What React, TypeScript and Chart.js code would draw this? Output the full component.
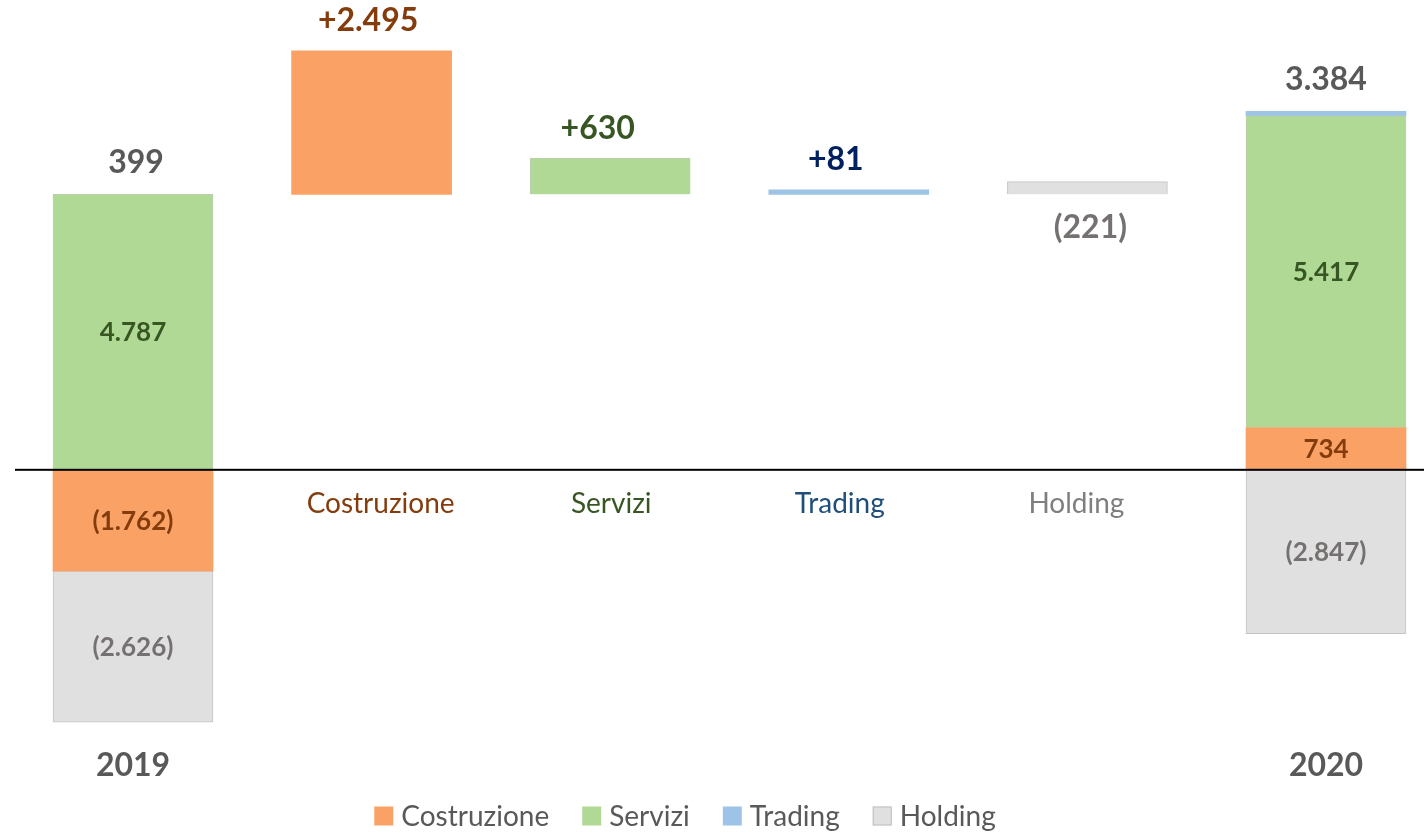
import React, { useEffect, useRef } from "react";
import { Chart, registerables } from "chart.js";

Chart.register(...registerables);

// ---- data ----
const categories = ["2019", "Costruzione", "Servizi", "Trading", "Holding", "2020"];
const segments = ["Costruzione", "Servizi", "Trading", "Holding"];
const values2019 = [-1762, 4787, 0, -2626];
const deltas = [2495, 630, 81, -221];
const values2020 = [734, 5417, 81, -2847];
const totals = [399, 3384];

// ---- styles ----
const fills = ["#FAA266", "#B0D995", "#9DC3E6", "#E0E0E0"];
const borders = ["#FAA266", "#BCCFAE", "#9DC3E6", "#C4C4C4"];
const valueColors = ["#843C0C", "#375623", "#002060", "#767171"];
const axisColors = ["#843C0C", "#375623", "#1F4E79", "#7F7F7F"];
const FONT = "Lato, 'Open Sans', sans-serif";

function fmtNum(v: number): string {
  return String(Math.abs(v)).replace(/\B(?=(\d{3})+(?!\d))/g, ".");
}
function fmtSigned(v: number): string {
  return v < 0 ? `(${fmtNum(v)})` : fmtNum(v);
}
function fmtDelta(v: number): string {
  return v < 0 ? `(${fmtNum(v)})` : `+${fmtNum(v)}`;
}

function drawText(ctx: CanvasRenderingContext2D, text: string, x: number, capCenter: number, size: number, weight: string, color: string) {
  ctx.save();
  ctx.font = `${weight} ${size}px ${FONT}`;
  ctx.fillStyle = color;
  ctx.textAlign = "center";
  ctx.textBaseline = "alphabetic";
  ctx.fillText(text, x, capCenter + size * 0.358);
  ctx.restore();
}

const deltaDx = [-3.5, -12.5, -13, 3];
const axisDx = [9, 1, -9, -11];

const labelsPlugin = {
  id: "waterfallLabels",
  afterDatasetsDraw(chart: any) {
    const ctx: CanvasRenderingContext2D = chart.ctx;
    const xs = chart.scales.x;
    const ys = chart.scales.y;
    const zeroY = ys.getPixelForValue(0);

    // zero line
    ctx.save();
    ctx.fillStyle = "#000000";
    ctx.fillRect(15, zeroY - 1, chart.width - 15, 2);
    ctx.restore();

    const lastIdx = categories.length - 1;
    const stackIdx = [0, lastIdx];
    const stackVals = [values2019, values2020];
    stackIdx.forEach((ci, k) => {
      let top = zeroY;
      segments.forEach((_, s) => {
        const v = stackVals[k][s];
        const el = chart.getDatasetMeta(s + 1).data[ci];
        if (!el || !v) return;
        const t = Math.min(el.y, el.base);
        if (v > 0) top = Math.min(top, t);
        if (Math.abs(el.base - el.y) < 24) return;
        drawText(ctx, fmtSigned(v), el.x, (el.y + el.base) / 2, 26, "bold", valueColors[s]);
      });
      const x = xs.getPixelForValue(ci);
      drawText(ctx, fmtSigned(totals[k]), x + (k === 0 ? 3 : 0), top - 33, 32, "bold", "#595959");
      drawText(ctx, categories[ci], x, 765, 32, "bold", "#595959");
    });

    segments.forEach((name, s) => {
      const ci = s + 1;
      const el = chart.getDatasetMeta(s + 1).data[ci];
      const t = Math.min(el.y, el.base);
      const b = Math.max(el.y, el.base);
      const d = deltas[s];
      const y = d >= 0 ? t - 31 : b + 32;
      drawText(ctx, fmtDelta(d), el.x + deltaDx[s], y, 32, "bold", valueColors[s]);
      drawText(ctx, name, xs.getPixelForValue(ci) + axisDx[s], zeroY + 33, 28, "normal", axisColors[s]);
    });

    // legend
    ctx.save();
    ctx.font = `normal 28px ${FONT}`;
    const box = 19;
    const boxGap = 8;
    const itemGap = 33;
    const widths = segments.map((n) => ctx.measureText(n).width);
    const total = widths.reduce((a, w) => a + box + boxGap + w, 0) + itemGap * (segments.length - 1);
    let x = 685 - total / 2;
    const cy = 816;
    segments.forEach((n, s) => {
      ctx.fillStyle = fills[s];
      ctx.fillRect(x, cy - box / 2, box, box);
      if (s === 3) {
        ctx.strokeStyle = "#BFBFBF";
        ctx.lineWidth = 1;
        ctx.strokeRect(x + 0.5, cy - box / 2 + 0.5, box - 1, box - 1);
      }
      ctx.fillStyle = "#595959";
      ctx.textAlign = "left";
      ctx.textBaseline = "alphabetic";
      ctx.fillText(n, x + box + boxGap, cy + 28 * 0.358);
      x += box + boxGap + widths[s] + itemGap;
    });
    ctx.restore();
  },
};

export default function App() {
  const ref = useRef<HTMLCanvasElement | null>(null);
  useEffect(() => {
    if (!ref.current) return;
    const lastIdx = categories.length - 1;
    const base = values2019.filter((v) => v > 0).reduce((a, v) => a + v, 0);
    const baseData = categories.map((_, i) => (i === 0 || i === lastIdx ? null : base));
    const datasets: any[] = [
      {
        label: "base",
        data: baseData,
        backgroundColor: "rgba(0,0,0,0)",
        borderWidth: 0,
      },
      ...segments.map((name, s) => ({
        label: name,
        data: categories.map((_, i) => {
          if (i === 0) return values2019[s];
          if (i === lastIdx) return values2020[s];
          return i === s + 1 ? Math.abs(deltas[s]) : null;
        }),
        backgroundColor: fills[s],
        borderColor: borders[s],
        borderWidth: s === 1 || s === 3 ? 1 : 0,
      })),
    ];
    const chart = new Chart(ref.current, {
      type: "bar",
      data: { labels: categories, datasets },
      options: {
        animation: false,
        responsive: false,
        devicePixelRatio: 1,
        layout: { padding: { left: 133, right: 98, top: 0, bottom: 0 } },
        datasets: { bar: { barThickness: 160, clip: false } as any },
        scales: {
          x: { type: "category", stacked: true, offset: false, display: false },
          y: { stacked: true, display: false, min: -6312, max: 8165 },
        },
        plugins: { legend: { display: false }, tooltip: { enabled: false } },
      },
      plugins: [labelsPlugin],
    });
    return () => chart.destroy();
  }, []);
  return (
    <div style={{ position: "fixed", left: 0, top: 0, width: 1424, height: 833, background: "#ffffff" }}>
      <canvas ref={ref} width={1424} height={833} style={{ display: "block" }} />
    </div>
  );
}
